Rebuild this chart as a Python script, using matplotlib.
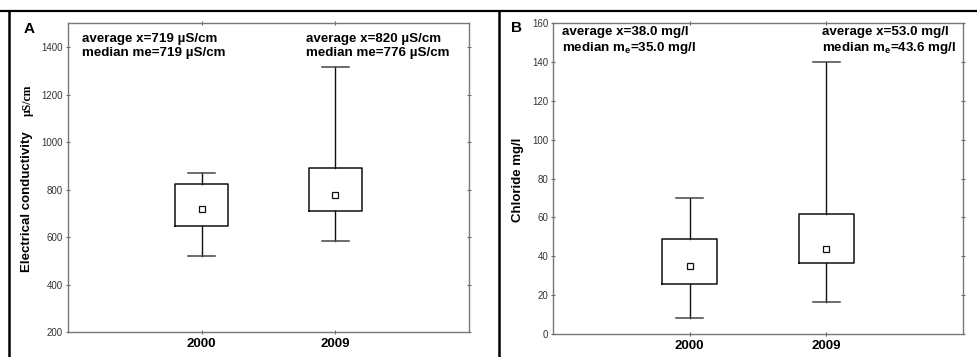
import matplotlib
matplotlib.use("Agg")
import matplotlib.pyplot as plt
from matplotlib.lines import Line2D

plt.rcParams['font.family'] = ['Liberation Sans', 'DejaVu Sans']
plt.rcParams['mathtext.fontset'] = 'custom'
plt.rcParams['mathtext.rm'] = 'Liberation Sans:bold'
plt.rcParams['mathtext.it'] = 'Liberation Sans:bold'
plt.rcParams['mathtext.bf'] = 'Liberation Sans:bold'

years = ['2000', '2009']

# Electrical conductivity (µS/cm)
ec_whislo = [519, 585]
ec_q1 = [645, 708]
ec_med = [719, 776]
ec_q3 = [825, 889]
ec_whishi = [868, 1314]
ec_yticks = [200, 400, 600, 800, 1000, 1200, 1400]

# Chloride (mg/l)
cl_whislo = [8.0, 16.3]
cl_q1 = [26.0, 36.8]
cl_med = [35.0, 43.6]
cl_q3 = [49.1, 61.8]
cl_whishi = [70.0, 140.0]
cl_yticks = [0, 20, 40, 60, 80, 100, 120, 140, 160]

ec_notes = ["average x=719 µS/cm\nmedian me=719 µS/cm",
            "average x=820 µS/cm\nmedian me=776 µS/cm"]
cl_notes = ["average x=38.0 mg/l\nmedian m$_\\mathrm{e}$=35.0 mg/l",
            "average x=53.0 mg/l\nmedian m$_\\mathrm{e}$=43.6 mg/l"]

fig = plt.figure(figsize=(9.77, 3.57), dpi=100)
axA = fig.add_axes([68/977, (357-332)/357, (469-68)/977, (332-23.3)/357])
axB = fig.add_axes([553/977, (357-334)/357, (963-553)/977, (334-23.3)/357])

positions = [1, 2]


def draw(ax, lo, q1, med, q3, hi, ylim, yticks):
    stats = []
    for i in range(len(years)):
        stats.append(dict(whislo=lo[i], q1=q1[i], med=med[i], q3=q3[i],
                          whishi=hi[i], label=years[i]))
    ax.bxp(stats, positions=positions, widths=0.4, capwidths=0.2,
           showfliers=False,
           boxprops=dict(color='#111111', linewidth=1.1),
           whiskerprops=dict(color='#111111', linewidth=1.0),
           capprops=dict(color='#444444', linewidth=1.1),
           medianprops=dict(linestyle='none'))
    ax.plot(positions, med, linestyle='none', marker='s', markersize=4,
            markerfacecolor='white', markeredgecolor='#111111',
            markeredgewidth=0.9, zorder=5)
    ax.set_xlim(0, 3)
    ax.set_ylim(*ylim)
    ax.set_yticks(yticks)
    ax.set_xticks(positions)
    ax.set_xticklabels(years, fontsize=9.5, fontweight='bold')
    ax.tick_params(axis='y', labelsize=7, labelcolor='#333333',
                   direction='inout', length=3, right=True, pad=2,
                   color='#666666')
    ax.tick_params(axis='x', direction='inout', length=3, top=True, pad=3,
                   color='#666666')
    for s in ax.spines.values():
        s.set_color('#777777')
        s.set_linewidth(1.0)


draw(axA, ec_whislo, ec_q1, ec_med, ec_q3, ec_whishi, (200, 1500), ec_yticks)
draw(axB, cl_whislo, cl_q1, cl_med, cl_q3, cl_whishi, (0, 160), cl_yticks)

# annotations
fs = 9.6
fig.text(81.5/977, 1 - 46/357, ec_notes[0], fontsize=fs, fontweight='bold',
         va='center', ha='left', linespacing=1.3)
fig.text(305.5/977, 1 - 46/357, ec_notes[1], fontsize=fs, fontweight='bold',
         va='center', ha='left', linespacing=1.3)
fig.text(561.5/977, 1 - 41/357, cl_notes[0], fontsize=fs, fontweight='bold',
         va='center', ha='left', linespacing=1.15)
fig.text(821.5/977, 1 - 41/357, cl_notes[1], fontsize=fs, fontweight='bold',
         va='center', ha='left', linespacing=1.15)

# panel letters
fig.text(29/977, 1 - 29/357, 'A', fontsize=11, fontweight='bold',
         ha='center', va='center')
fig.text(517/977, 1 - 28/357, 'B', fontsize=11, fontweight='bold',
         ha='center', va='center')

# y labels
fig.text(27/977, 1 - 202/357, 'Electrical conductivity', fontsize=9.5,
         fontweight='bold', rotation=90, ha='center', va='center')
fig.text(28/977, 1 - 100/357, 'µS/cm', fontsize=8.5, fontweight='bold',
         family=['Liberation Serif', 'DejaVu Serif'], rotation=90,
         ha='center', va='center')
fig.text(518/977, 1 - 180/357, 'Chloride mg/l', fontsize=9.5,
         fontweight='bold', rotation=90, ha='center', va='center')

# outer frame lines
fig.add_artist(Line2D([0, 1], [1 - 11/357, 1 - 11/357], color='black',
                      linewidth=1.6, transform=fig.transFigure))
fig.add_artist(Line2D([8.5/977, 8.5/977], [0, 1 - 11/357], color='black',
                      linewidth=1.8, transform=fig.transFigure))
fig.add_artist(Line2D([499/977, 499/977], [0, 1 - 11/357], color='black',
                      linewidth=1.8, transform=fig.transFigure))

fig.savefig('out.png', dpi=100)
